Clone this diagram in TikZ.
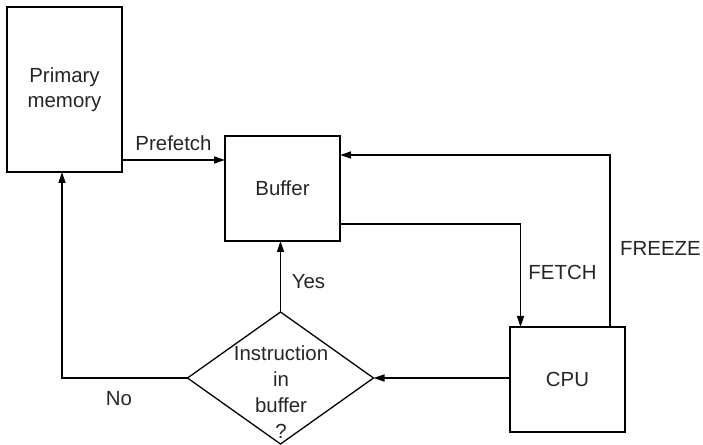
\documentclass[tikz,border=0pt]{standalone}
\usepackage{fontspec}
\setmainfont{Liberation Sans}
\usetikzlibrary{arrows.meta,shapes.geometric}
\begin{document}
\begin{tikzpicture}[x=1bp,y=-1bp,
  every node/.style={font=\fontsize{20.5}{25.5}\selectfont, text=black!85},
  blk/.style={draw, line width=1.3bp, inner sep=0pt, outer sep=0pt},
  dec/.style={draw, diamond, line width=1.3bp, inner sep=0pt, outer sep=0pt, minimum width=186bp, minimum height=132bp},
  lbl/.style={anchor=base, inner sep=0pt},
  conn/.style={line width=1.3bp, -{Triangle[length=11bp,width=7bp]}},
  line/.style={line width=1.3bp}]
\useasboundingbox (0,0) rectangle (703,445);
\node[blk, minimum width=115bp, minimum height=165bp, align=center] (pm) at (64.5,89.5) {Primary\\memory};
\node[blk, minimum width=115bp, minimum height=105bp] (buf) at (282.5,188.5) {Buffer};
\node[blk, minimum width=115bp, minimum height=105bp] (cpu) at (567.5,379.5) {CPU};
\node[dec] (dia) at (280.5,378) {};
\node[align=center, inner sep=0pt, font=\fontsize{20.5}{26}\selectfont] (diatext) at (281,392) {Instruction\\in\\buffer\\?};
% Prefetch
\draw[conn] (pm.east |- 0,160) -- (buf.west |- 0,160);
\node[lbl] (lpre) at (173.5,151) {Prefetch};
% FREEZE
\coordinate (fz1) at (610,155);
\draw[conn] (cpu.north -| fz1) -- (fz1) -- (buf.east |- fz1);
\node[lbl] (lfz) at (660.5,256) {FREEZE};
% FETCH
\coordinate (ft1) at (520.5,224);
\draw[conn] (buf.east |- ft1) -- (ft1) -- (cpu.north -| ft1);
\node[lbl] (lft) at (562.5,280) {FETCH};
% CPU to diamond
\draw[conn] (cpu.west |- dia.east) -- (dia.east);
% Yes
\draw[conn] (dia.north) -- (buf.south -| dia.north);
\node[lbl] (lyes) at (308.5,289) {Yes};
% No
\coordinate (no1) at (62,378);
\draw[conn] (dia.west) -- (no1) -- (pm.south -| no1);
\node[lbl] (lno) at (119,405) {No};
\end{tikzpicture}
\end{document}
